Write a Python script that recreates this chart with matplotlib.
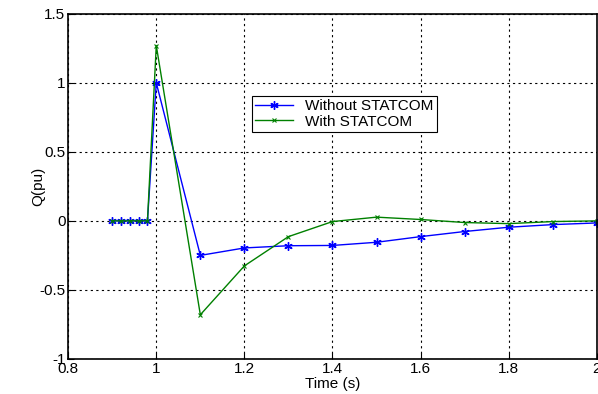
import numpy as np
import matplotlib
matplotlib.use("Agg")
import matplotlib.pyplot as plt

plt.rcParams['font.family'] = ['Liberation Sans', 'DejaVu Sans']

# time samples (s)
time = [0.9, 0.92, 0.94, 0.96, 0.98, 1.0, 1.1, 1.2, 1.3, 1.4, 1.5, 1.6, 1.7, 1.8, 1.9, 2.0]
# reactive power (pu)
q_without = [0, 0, 0, 0, 0, 1.0, -0.25, -0.196, -0.18, -0.178, -0.155, -0.114, -0.077, -0.046, -0.027, -0.015]
q_with = [0, 0, 0, 0, 0, 1.27, -0.68, -0.326, -0.114, -0.005, 0.027, 0.01, -0.012, -0.02, -0.005, 0.0]

fig = plt.figure(figsize=(5.98, 3.94), dpi=100)
ax = fig.add_axes([0.114, 0.089, 0.884, 0.876])

# matlab style asterisk marker
ax.plot(time, q_without, color='#0000ff', marker=(6, 2, 0), markersize=6, linewidth=1,
        markeredgewidth=1, label='Without STATCOM')
ax.plot(time, q_with, color='#008000', marker='x', markersize=3.5, linewidth=1,
        markeredgewidth=0.8, label='With STATCOM')

ax.set_xlim(0.8, 2.0)
ax.set_ylim(-1, 1.5)
ax.set_xticks([0.8, 1, 1.2, 1.4, 1.6, 1.8, 2])
ax.set_xticklabels(['0.8', '1', '1.2', '1.4', '1.6', '1.8', '2'])
ax.set_yticks([-1, -0.5, 0, 0.5, 1, 1.5])
ax.set_yticklabels(['-1', '-0.5', '0', '0.5', '1', '1.5'])
ax.grid(True, color='black', linestyle=(0, (2, 3)), linewidth=0.8)
ax.tick_params(direction='in', labelsize=11, length=4, pad=2)
for s in ax.spines.values():
    s.set_linewidth(1.2)

ax.set_xlabel('Time (s)', fontsize=11, labelpad=1)
ax.set_ylabel('Q(pu)', fontsize=11, labelpad=-4)

leg = ax.legend(loc='upper left', bbox_to_anchor=(0.347, 0.762), fontsize=11,
                frameon=True, fancybox=False, edgecolor='black', framealpha=1,
                borderpad=0.2, labelspacing=0.1, handlelength=2.5, borderaxespad=0)
leg.get_frame().set_linewidth(0.8)

fig.savefig('out.png', dpi=100)
